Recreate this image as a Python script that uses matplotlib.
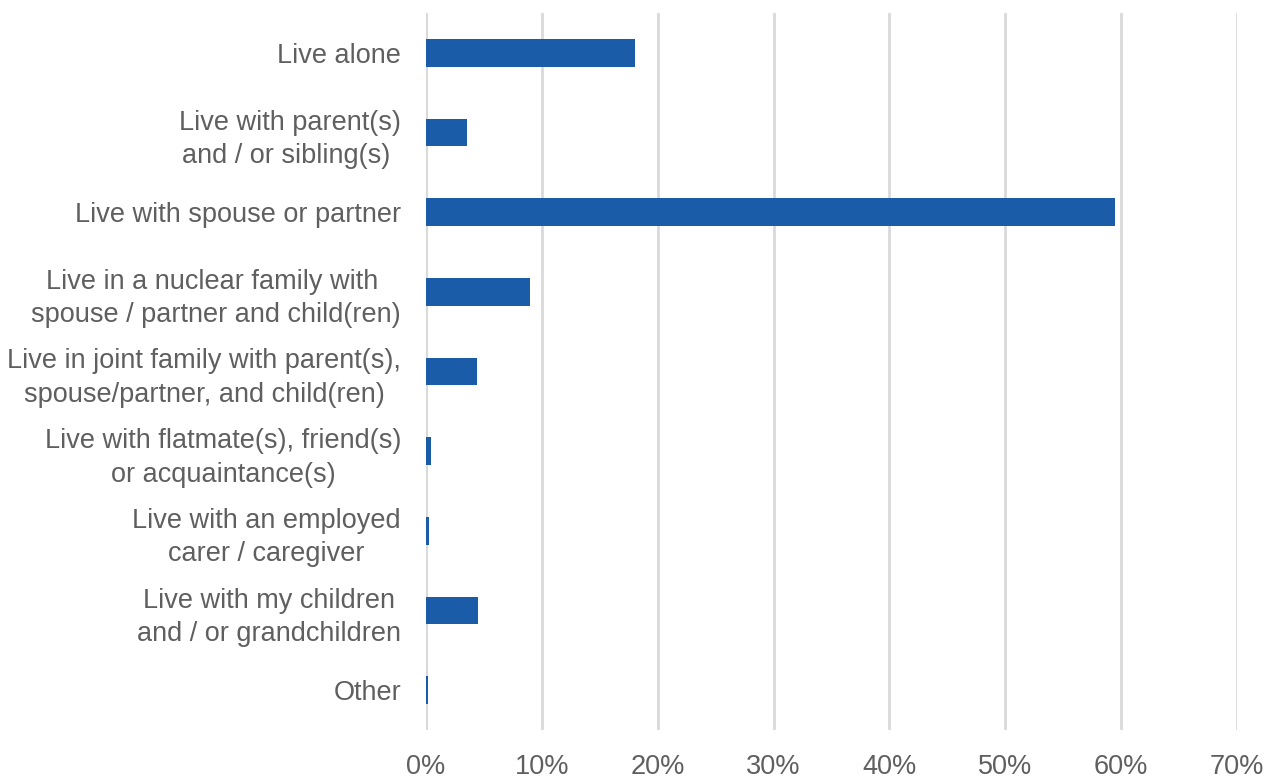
import matplotlib.pyplot as plt
from matplotlib.ticker import PercentFormatter

categories = [
    "Live alone",
    "Live with parent(s)\nand / or sibling(s) ",
    "Live with spouse or partner",
    "Live in a nuclear family with \nspouse / partner and child(ren)",
    "Live in joint family with parent(s),\nspouse/partner, and child(ren)",
    "Live with flatmate(s), friend(s)\nor acquaintance(s)",
    "Live with an employed\ncarer / caregiver",
    "Live with my children\nand / or grandchildren",
    "Other",
]
shares = [18.0, 3.5, 59.5, 9.0, 4.4, 0.4, 0.3, 4.5, 0.2]

plt.rcParams['font.family'] = ['Liberation Sans', 'DejaVu Sans']
text_color = '#5f5f5f'
grid_color = '#d9d9d9'

fig = plt.figure(figsize=(12.74, 7.8), dpi=100)
ax = fig.add_axes([426 / 1274, 1 - 730 / 780, (1237 - 426) / 1274, 717 / 780])

y = list(range(len(categories)))
ax.barh(y, shares, height=0.35, color='#1a5ca8', zorder=3)

ax.set_ylim(len(categories) - 0.5, -0.5)
ax.set_xlim(0, 70)
ax.set_xticks(range(0, 71, 10))
ax.xaxis.set_major_formatter(PercentFormatter(decimals=0))
ax.set_yticks(y)
ax.set_yticklabels(categories, multialignment='center', linespacing=1.38)

ax.grid(axis='x', color=grid_color, linewidth=2, zorder=0)
for s in ax.spines.values():
    s.set_visible(False)
ax.axvline(0, color=grid_color, linewidth=2, zorder=1)

ax.tick_params(axis='both', length=0, labelsize=19.5, labelcolor=text_color)
ax.tick_params(axis='y', pad=18)
ax.tick_params(axis='x', pad=17)

fig.savefig('out.png', dpi=100)
